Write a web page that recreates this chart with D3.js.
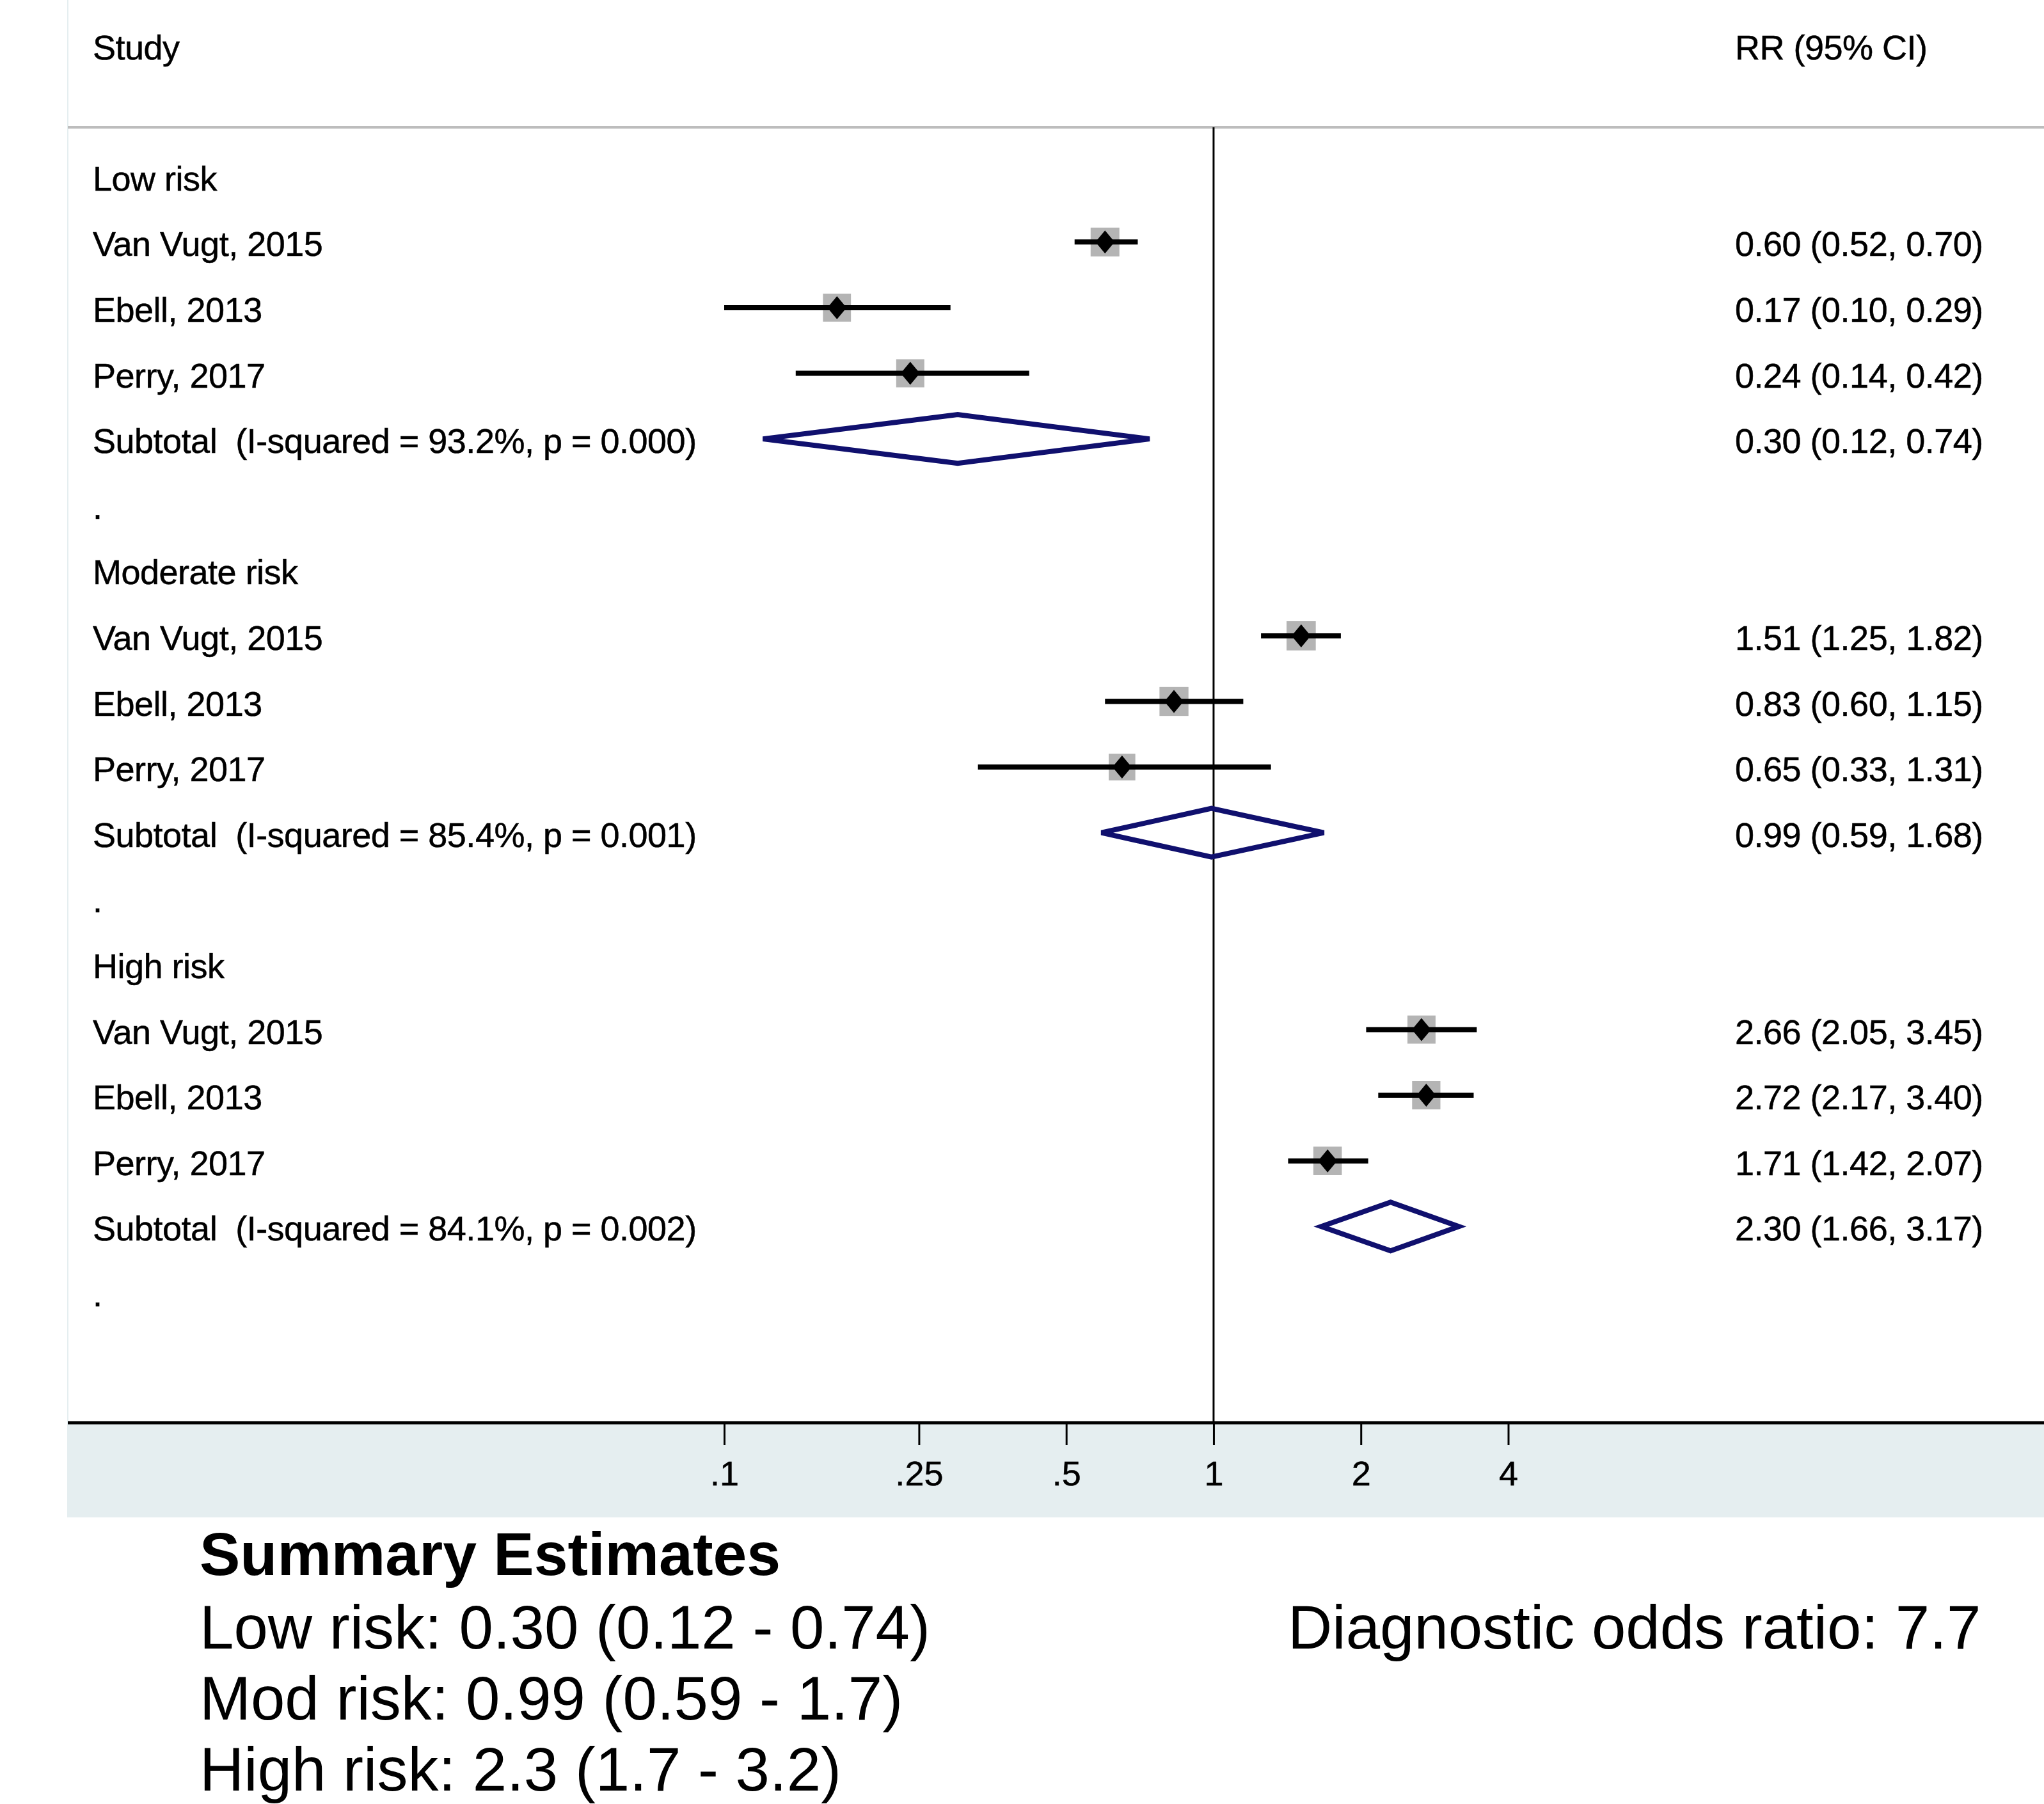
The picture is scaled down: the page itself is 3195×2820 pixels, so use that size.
<!DOCTYPE html>
<html>
<head>
<meta charset="utf-8">
<script src="https://cdn.jsdelivr.net/npm/d3@7"></script>
<style>
    html, body { margin: 0; padding: 0; background: #fff; }
    text { font-family: "Liberation Sans", Arial, Helvetica, sans-serif; white-space: pre; }
    .small { stroke: #000; stroke-width: 0.5px; }
</style>
</head>
<body>
<svg id="forest"></svg>
<script>
const groups = ['Low risk', 'Moderate risk', 'High risk']
const studies = ['Van Vugt, 2015', 'Ebell, 2013', 'Perry, 2017']

const rr = [[0.60, 0.17, 0.24], [1.51, 0.83, 0.65], [2.66, 2.72, 1.71]]
const lo = [[0.52, 0.10, 0.14], [1.25, 0.60, 0.33], [2.05, 2.17, 1.42]]
const hi = [[0.70, 0.29, 0.42], [1.82, 1.15, 1.31], [3.45, 3.40, 2.07]]
const weights = [[34.5, 32.6, 32.9], [35.5, 35.0, 29.5], [32.9, 33.3, 33.8]]

const subRR = [0.30, 0.99, 2.30]
const subLo = [0.12, 0.59, 1.66]
const subHi = [0.74, 1.68, 3.17]
const iSquared = ['93.2%', '85.4%', '84.1%']
const pValues = ['0.000', '0.001', '0.002']

const xTicks = [0.1, 0.25, 0.5, 1, 2, 4]
const xTickLabels = ['.1', '.25', '.5', '1', '2', '4']

const summaryTitle = 'Summary Estimates'
const summaryLines = ['Low risk: 0.30 (0.12 - 0.74)', 'Mod risk: 0.99 (0.59 - 1.7)', 'High risk: 2.3 (1.7 - 3.2)']
const dorText = 'Diagnostic odds ratio: 7.7'

const width = 3195
const height = 2820
const left = 106
const headerY = 199
const axisY = 2224
const bandBottom = 2372
const labelX = 145
const rrX = 2712
const navy = '#10106e'
const fmt = d3.format('.2f')

// one row per line of the table: group header, studies, subtotal, spacer
const rows = []
groups.forEach((g, gi) => {
    rows.push({ type: 'group', label: g })
    studies.forEach((s, si) => {
        rows.push({ type: 'study', label: s, rr: rr[gi][si], lo: lo[gi][si], hi: hi[gi][si], w: weights[gi][si] })
    })
    rows.push({
        type: 'sub',
        label: `Subtotal  (I-squared = ${iSquared[gi]}, p = ${pValues[gi]})`,
        rr: subRR[gi], lo: subLo[gi], hi: subHi[gi]
    })
    rows.push({ type: 'gap', label: '.' })
})
rows.forEach((d, i) => { d.i = i })

const x = d3.scaleLog().domain([0.1, 4]).range([1132, 2357.5])
const y = d3.scaleLinear().domain([0, rows.length - 1]).range([275.7, 275.7 + 102.6 * (rows.length - 1)])
const side = d3.scaleSqrt().domain([0, 34.5]).range([0, 45])

const svg = d3.select('#forest')
    .attr('width', width)
    .attr('height', height)
    .attr('viewBox', `0 0 ${width} ${height}`)

svg.append('rect')
    .attr('x', left).attr('y', axisY)
    .attr('width', width - left).attr('height', bandBottom - axisY)
    .attr('fill', '#e5eef0')

svg.append('line')
    .attr('x1', left).attr('x2', left)
    .attr('y1', 0).attr('y2', bandBottom)
    .attr('stroke', '#e5eef0').attr('stroke-width', 2)

svg.append('line')
    .attr('x1', left).attr('x2', width)
    .attr('y1', headerY).attr('y2', headerY)
    .attr('stroke', '#bdbdbd').attr('stroke-width', 4)

svg.append('line')
    .attr('x1', x(1)).attr('x2', x(1))
    .attr('y1', headerY).attr('y2', axisY)
    .attr('stroke', '#000').attr('stroke-width', 3)

// headers
svg.append('text').attr('class', 'small').attr('x', labelX).attr('y', 93)
    .attr('font-size', 54).attr('letter-spacing', -0.5).text('Study')
svg.append('text').attr('class', 'small').attr('x', rrX).attr('y', 93)
    .attr('font-size', 54).attr('letter-spacing', -0.5).text('RR (95% CI)')

// left labels and estimate column
svg.selectAll('.row__label')
    .data(rows)
    .enter()
    .append('text')
    .attr('class', 'row__label small')
    .attr('x', labelX)
    .attr('y', (d) => y(d.i) + 22)
    .attr('font-size', 54)
    .attr('letter-spacing', -0.5)
    .text((d) => d.label)

svg.selectAll('.row__rr')
    .data(rows.filter((d) => d.type === 'study' || d.type === 'sub'))
    .enter()
    .append('text')
    .attr('class', 'row__rr small')
    .attr('x', rrX)
    .attr('y', (d) => y(d.i) + 22)
    .attr('font-size', 54)
    .attr('letter-spacing', -0.5)
    .text((d) => `${fmt(d.rr)} (${fmt(d.lo)}, ${fmt(d.hi)})`)

const studyRows = rows.filter((d) => d.type === 'study')

svg.selectAll('.entry__box')
    .data(studyRows)
    .enter()
    .append('rect')
    .attr('class', 'entry__box')
    .attr('x', (d) => x(d.rr) - side(d.w) / 2)
    .attr('y', (d) => y(d.i) - side(d.w) / 2)
    .attr('width', (d) => side(d.w))
    .attr('height', (d) => side(d.w))
    .attr('fill', '#b4b4b4')

svg.selectAll('.entry__ci')
    .data(studyRows)
    .enter()
    .append('line')
    .attr('class', 'entry__ci')
    .attr('x1', (d) => x(d.lo))
    .attr('x2', (d) => x(d.hi))
    .attr('y1', (d) => y(d.i))
    .attr('y2', (d) => y(d.i))
    .attr('stroke', '#000')
    .attr('stroke-width', 8)

svg.selectAll('.entry__point')
    .data(studyRows)
    .enter()
    .append('path')
    .attr('class', 'entry__point')
    .attr('d', (d) => {
        const cx = x(d.rr)
        const cy = y(d.i)
        return `M${cx},${cy - 18}L${cx + 15},${cy}L${cx},${cy + 18}L${cx - 15},${cy}Z`
    })
    .attr('fill', '#000')

svg.selectAll('.entry__pooled')
    .data(rows.filter((d) => d.type === 'sub'))
    .enter()
    .append('path')
    .attr('class', 'entry__pooled')
    .attr('d', (d) => {
        const cy = y(d.i)
        return `M${x(d.lo)},${cy}L${x(d.rr)},${cy - 38}L${x(d.hi)},${cy}L${x(d.rr)},${cy + 38}Z`
    })
    .attr('fill', 'none')
    .attr('stroke', navy)
    .attr('stroke-width', 8)
    .attr('stroke-linejoin', 'miter')

// x axis
const axis = svg.append('g')
    .attr('transform', `translate(0,${axisY})`)
    .call(d3.axisBottom(x)
        .tickValues(xTicks)
        .tickFormat((d, i) => xTickLabels[i])
        .tickSize(35)
        .tickPadding(25))

axis.select('.domain').remove()
axis.selectAll('.tick line').attr('stroke', '#000').attr('stroke-width', 3)
axis.selectAll('.tick text')
    .attr('class', 'small')
    .attr('fill', '#000')
    .attr('font-size', 54)
    .attr('font-family', '"Liberation Sans", Arial, Helvetica, sans-serif')

svg.append('line')
    .attr('x1', left).attr('x2', width)
    .attr('y1', axisY).attr('y2', axisY)
    .attr('stroke', '#000').attr('stroke-width', 5)

// summary block under the graph
svg.append('text')
    .attr('x', 312).attr('y', 2462)
    .attr('font-size', 95).attr('font-weight', 'bold')
    .text(summaryTitle)

svg.selectAll('.summary__line')
    .data(summaryLines)
    .enter()
    .append('text')
    .attr('class', 'summary__line')
    .attr('x', 312)
    .attr('y', (d, i) => 2577 + i * 111)
    .attr('font-size', 96)
    .text((d) => d)

svg.append('text')
    .attr('x', 2013).attr('y', 2577)
    .attr('font-size', 96)
    .text(dorText)
</script>
</body>
</html>
